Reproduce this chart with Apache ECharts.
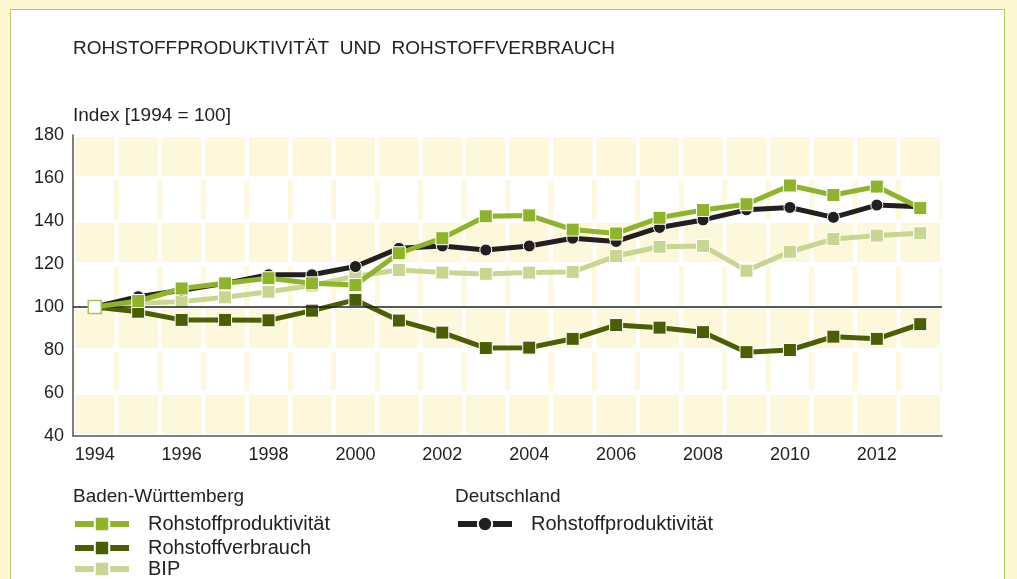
<!DOCTYPE html>
<html>
  <head>
    <meta charset="utf-8" />
    <title>Rohstoffproduktivität und Rohstoffverbrauch</title>
    <script src="https://cdn.jsdelivr.net/npm/echarts@6/dist/echarts.min.js"></script>
    <style>
      body {
        margin: 0;
        background-color: #fdf7d2;
      }
      #panel {
        position: absolute;
        left: 10px;
        top: 9px;
        width: 993px;
        height: 600px;
        background: #fff;
        border: 1.5px solid #b7c95c;
      }
      #main {
        position: absolute;
        left: 0;
        top: 0;
        width: 1017px;
        height: 579px;
      }
    </style>
  </head>
  <body>
    <div id="panel"></div>
    <div id="main"></div>
    <script>
      // Jahre (Kategorien)
      var years = ['1994', '1995', '1996', '1997', '1998', '1999', '2000', '2001', '2002', '2003',
                   '2004', '2005', '2006', '2007', '2008', '2009', '2010', '2011', '2012', '2013'];
      // Baden-Württemberg
      var bwProd = [100, 102.8, 108.6, 111, 113.4, 111, 110.2, 125, 132, 142.2,
                    142.6, 136, 134.2, 141.5, 145.1, 147.8, 156.5, 152.1, 156, 146];
      var bwVerb = [100, 97.8, 94, 94, 93.8, 98.3, 103.3, 93.7, 88.1, 80.9,
                    81.1, 85.2, 91.6, 90.4, 88.3, 79, 80, 86.2, 85.2, 92];
      var bwBip = [100, 101.7, 102.5, 104.5, 107.1, 110, 114.3, 117.2, 116, 115.4,
                   116, 116.3, 123.7, 128, 128.4, 116.9, 125.7, 131.6, 133.2, 134.3];
      // Deutschland
      var deProd = [100, 104.8, 107.8, 111, 115, 115, 118.8, 127.3, 128.4, 126.5,
                    128.4, 132, 130.5, 137, 140.5, 145.2, 146.3, 141.7, 147.4, 146.6];
      // y-Achse
      var yTicks = [40, 60, 80, 100, 120, 140, 160, 180];
      var baseValue = 100;

      var legendNames = {
        bwProd: 'Rohstoffproduktivität',
        bwVerb: 'Rohstoffverbrauch',
        bwBip: 'BIP',
        deProd: 'Rohstoffproduktivität'
      };

      var cYellow = '#fdf8dc';
      var font = '"Liberation Sans", Arial, sans-serif';

      // Hintergrund-Kacheln: abwechselnd gelbe und weiße Bänder
      function renderCells(params, api) {
        var idx = api.value(0);
        var bw = api.size([1, 0])[0];
        var children = [];
        for (var i = 0; i < yTicks.length - 1; i++) {
          var p0 = api.coord([idx, yTicks[i]]);
          var p1 = api.coord([idx, yTicks[i + 1]]);
          var x = p0[0] - bw / 2;
          var top = p1[1] + 2;
          var h = p0[1] - p1[1] - 4;
          if (i % 2 === 0) {
            children.push({
              type: 'rect',
              shape: { x: x + 2, y: top, width: bw - 4, height: h },
              style: { fill: cYellow }
            });
          } else {
            children.push({
              type: 'rect',
              shape: { x: x, y: top, width: bw, height: h },
              style: { fill: cYellow }
            });
            children.push({
              type: 'rect',
              shape: { x: x + 2.5, y: top, width: bw - 5, height: h },
              style: { fill: '#fff' }
            });
          }
        }
        return { type: 'group', children: children };
      }

      function lineSeries(id, data, color, symbol, size, z) {
        return {
          name: id,
          type: 'line',
          data: data,
          z: z,
          symbol: symbol,
          symbolSize: size,
          showAllSymbol: true,
          lineStyle: { color: color, width: 5 },
          itemStyle: { color: color, borderColor: '#fff', borderWidth: 1 },
          emphasis: { disabled: true }
        };
      }

      // eine Legende pro Eintrag, damit nichts umbricht
      function legendItem(id, left, top) {
        return {
          data: [id],
          left: left,
          top: top,
          itemWidth: 54,
          itemHeight: 18,
          selectedMode: false,
          lineStyle: { width: 6 },
          formatter: function (n) { return legendNames[n]; },
          textStyle: { fontSize: 20, color: '#222', padding: [0, 0, 0, 14] }
        };
      }

      var prodData = bwProd.map(function (v, i) {
        if (i === 0) {
          return { value: v, itemStyle: { color: '#fff', borderColor: '#a6c250', borderWidth: 1.5 } };
        }
        return v;
      });

      var myChart = echarts.init(document.getElementById('main'));
      var option = {
        animation: false,
        textStyle: { fontFamily: font },
        title: {
          text: 'ROHSTOFFPRODUKTIVITÄT  UND  ROHSTOFFVERBRAUCH',
          left: 68,
          top: 34,
          textStyle: { fontSize: 19, fontWeight: 'normal', color: '#222', fontFamily: font }
        },
        grid: { left: 73, right: 75, top: 135, bottom: 143 },
        xAxis: {
          type: 'category',
          data: years,
          boundaryGap: true,
          axisLine: { lineStyle: { color: '#555', width: 1.5 } },
          axisTick: { show: false },
          axisLabel: { interval: 1, fontSize: 18, color: '#222', margin: 10 },
          splitLine: { show: false }
        },
        yAxis: {
          type: 'value',
          min: yTicks[0],
          max: yTicks[yTicks.length - 1],
          interval: 20,
          name: 'Index [1994 = 100]',
          nameLocation: 'end',
          nameGap: 10,
          nameTextStyle: { align: 'left', fontSize: 19, color: '#222' },
          axisLine: { show: true, lineStyle: { color: '#555', width: 1.5 } },
          axisTick: { show: false },
          axisLabel: { fontSize: 18, color: '#222', margin: 9 },
          splitLine: { show: false }
        },
        legend: [
          legendItem('bwProd', 67, 509),
          legendItem('bwVerb', 67, 533),
          legendItem('bwBip', 67, 554),
          legendItem('deProd', 450, 509)
        ],
        graphic: [{
          type: 'text',
          left: 73,
          top: 487,
          style: { text: 'Baden-Württemberg', font: '19px ' + font, fill: '#222' }
        }, {
          type: 'text',
          left: 455,
          top: 487,
          style: { text: 'Deutschland', font: '19px ' + font, fill: '#222' }
        }],
        series: [{
          type: 'custom',
          silent: true,
          z: 0,
          data: years.map(function (y, i) { return [i]; }),
          encode: { x: 0 },
          renderItem: renderCells,
          markLine: {
            silent: true,
            symbol: 'none',
            label: { show: false },
            lineStyle: { color: '#222', width: 1.5, type: 'solid' },
            data: [{ yAxis: baseValue }]
          }
        },
          lineSeries('bwBip', bwBip, '#c9d691', 'rect', 13, 3),
          lineSeries('bwVerb', bwVerb, '#4b5e05', 'rect', 13, 4),
          lineSeries('deProd', deProd, '#231f20', 'circle', 12, 5),
          lineSeries('bwProd', prodData, '#8fb32a', 'rect', 13, 6)
        ]
      };
      myChart.setOption(option);
    </script>
  </body>
</html>
